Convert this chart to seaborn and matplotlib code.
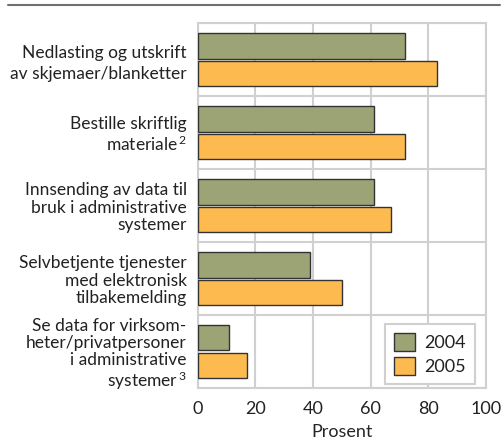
import pandas as pd
import matplotlib.pyplot as plt
import seaborn as sns
from matplotlib.lines import Line2D

kategorier = [
    "Nedlasting og utskrift\nav skjemaer/blanketter",
    "Bestille skriftlig\nmateriale$^{\\,2}$",
    "Innsending av data til\nbruk i administrative\nsystemer",
    "Selvbetjente tjenester\nmed elektronisk\ntilbakemelding",
    "Se data for virksom-\nheter/privatpersoner\ni administrative\nsystemer$^{\\,3}$",
]
aar = ["2004", "2005"]
verdier_2004 = [72, 61, 61, 39, 11]
verdier_2005 = [83, 72, 67, 50, 17]
xticks = [0, 20, 40, 60, 80, 100]

df = pd.DataFrame({
    "kategori": kategorier * 2,
    "prosent": verdier_2004 + verdier_2005,
    "år": [aar[0]] * 5 + [aar[1]] * 5,
})

sns.set_style("white")
plt.rcParams['font.family'] = ['Lato', 'DejaVu Sans']
plt.rcParams['mathtext.fontset'] = 'custom'
plt.rcParams['mathtext.rm'] = 'Lato'
plt.rcParams['mathtext.it'] = 'Lato'
plt.rcParams['mathtext.default'] = 'regular'
plt.rcParams['text.color'] = '#222222'
plt.rcParams['xtick.color'] = '#222222'
plt.rcParams['ytick.color'] = '#222222'

fig = plt.figure(figsize=(5.02, 4.38), dpi=100)
ax = fig.add_axes([0.394, 0.114, 0.574, 0.833])

sns.barplot(data=df, y="kategori", x="prosent", hue="år", orient="h",
            palette=["#9ca374", "#fdbb4f"], saturation=1,
            edgecolor="#333333", linewidth=1,
            width=0.76, gap=0.08, ax=ax, zorder=3)

ax.set_xlim(0, 100)
ax.set_ylim(4.5, -0.5)
ax.set_xticks(xticks)
ax.set_yticks(range(len(kategorier)))
ax.set_yticks([i - 0.5 for i in range(len(kategorier) + 1)], minor=True)
ax.set_yticklabels(kategorier, fontsize=12.5, linespacing=1.1)
spacing = [1.4, 1.15, 1.1, 1.1, 1.1]
for lab, ls in zip(ax.get_yticklabels(), spacing):
    lab.set_linespacing(ls)
ax.tick_params(axis='x', labelsize=13, length=0, pad=9)
ax.tick_params(axis='y', which='both', length=0, pad=8)
ax.grid(axis='x', which='major', color='#d0d0d0', lw=1.5, zorder=0)
ax.grid(axis='y', which='minor', color='#d0d0d0', lw=1.5, zorder=0)
ax.set_axisbelow(True)
for side in ax.spines.values():
    side.set_color('#d0d0d0')
    side.set_linewidth(1.5)
ax.set_xlabel("Prosent", fontsize=13, labelpad=5)
ax.set_ylabel("")

leg = ax.legend(loc='lower right', fontsize=13, fancybox=False, framealpha=1,
                edgecolor='#d0d0d0', handlelength=1.2, handleheight=1.2,
                borderpad=0.5, labelspacing=0.3, handletextpad=0.5,
                borderaxespad=0, bbox_to_anchor=(0.962, 0.011))
leg.get_frame().set_linewidth(1.5)

fig.add_artist(Line2D([0.016, 0.996], [0.988, 0.988], color='#707070', lw=1.5))

plt.savefig("out.png", dpi=100)
